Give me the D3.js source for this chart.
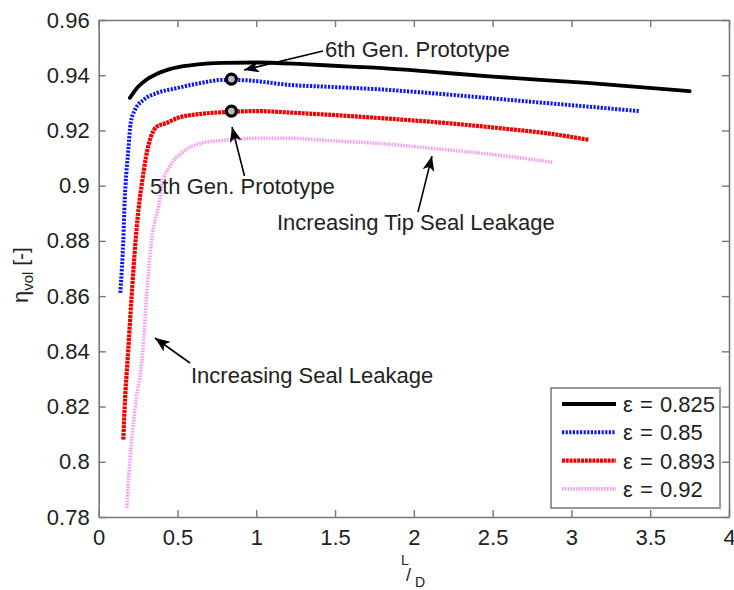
<!DOCTYPE html>
<html><head><meta charset="utf-8">
<script src="https://cdn.jsdelivr.net/npm/d3@7"></script>
<style>body{margin:0;background:#fff}svg{display:block}text{font-family:"Liberation Sans",Arial,sans-serif;fill:#222}</style>
</head><body>
<svg id="c" width="734" height="590"></svg>
<script>
// ---- data ----
const xTicks = [0, 0.5, 1, 1.5, 2, 2.5, 3, 3.5, 4];
const xTickLabels = ["0", "0.5", "1", "1.5", "2", "2.5", "3", "3.5", "4"];
const yTicks = [0.78, 0.8, 0.82, 0.84, 0.86, 0.88, 0.9, 0.92, 0.94, 0.96];
const yTickLabels = ["0.78", "0.8", "0.82", "0.84", "0.86", "0.88", "0.9", "0.92", "0.94", "0.96"];
const seriesNames = ["ε = 0.825", "ε = 0.85", "ε = 0.893", "ε = 0.92"];

const x825 = [0.198,0.25,0.3,0.37,0.45,0.58,0.79,1.0,1.3,1.6,1.8,2.1,2.5,3.1,3.75];
const y825 = [0.9318,0.9358,0.9383,0.9405,0.9422,0.9436,0.9445,0.9446,0.9440,0.9431,0.9426,0.9413,0.9395,0.9372,0.9342];

const x850 = [0.137,0.147,0.156,0.165,0.170,0.188,0.203,0.23,0.283,0.367,0.494,0.64,0.79,0.92,1.21,1.5,1.78,2.0,2.3,2.62,3.05,3.43];
const y850 = [0.8612,0.870,0.880,0.8948,0.900,0.913,0.9227,0.9274,0.931,0.9335,0.9353,0.9371,0.9383,0.9382,0.9365,0.9357,0.9349,0.934,0.9326,0.931,0.9289,0.927];

const x893 = [0.156,0.165,0.187,0.209,0.234,0.26,0.272,0.30,0.367,0.43,0.5,0.65,0.83,1.0,1.3,1.78,2.2,2.6,2.84,3.11];
const y893 = [0.808,0.820,0.840,0.860,0.880,0.895,0.900,0.9104,0.9213,0.9227,0.9245,0.926,0.9267,0.927,0.9262,0.9245,0.9227,0.9205,0.919,0.9166];

const x920 = [0.178,0.198,0.232,0.28,0.304,0.335,0.388,0.40,0.45,0.535,0.66,0.83,1.0,1.2,1.465,1.78,2.1,2.5,2.88];
const y920 = [0.7833,0.800,0.820,0.840,0.860,0.880,0.895,0.900,0.9068,0.9122,0.9155,0.9166,0.9172,0.9172,0.9163,0.9153,0.9136,0.9113,0.9085];

const prototypeX = [0.842, 0.842];
const prototypeY = [0.9386, 0.927];

// ---- layout ----
const svg = d3.select("#c");
const L = 98.7, R = 729, T = 20, B = 517;
const x = d3.scaleLinear().domain([0, 4]).range([L, R]);
const y = d3.scaleLinear().domain([0.78, 0.96]).range([B, T]);
const axisColor = "#777";

const styles = [
  {color: "#000", width: 3.8, dash: null},
  {color: "#0a14ff", width: 4, dash: "2.2,1.4"},
  {color: "#f20000", width: 4.2, dash: "3,0.8"},
  {color: "#f79cf5", width: 3.6, dash: "1.6,1.2"}
];
const xs = [x825, x850, x893, x920];
const ys = [y825, y850, y893, y920];

svg.append("rect").attr("width",734).attr("height",590).attr("fill","#fff");

// axes (box with inward ticks)
const tickLen = 7;
const gAx = svg.append("g");
gAx.append("g").attr("transform",`translate(0,${B})`)
  .call(d3.axisBottom(x).tickValues(xTicks).tickSizeInner(-tickLen).tickSizeOuter(0).tickPadding(12).tickFormat((d,i)=>xTickLabels[i]));
gAx.append("g").attr("transform",`translate(0,${T})`)
  .call(d3.axisTop(x).tickValues(xTicks).tickSizeInner(-tickLen).tickSizeOuter(0).tickFormat(""));
gAx.append("g").attr("transform",`translate(${L},0)`)
  .call(d3.axisLeft(y).tickValues(yTicks).tickSizeInner(-tickLen).tickSizeOuter(0).tickPadding(9).tickFormat((d,i)=>yTickLabels[i]));
gAx.append("g").attr("transform",`translate(${R},0)`)
  .call(d3.axisRight(y).tickValues(yTicks).tickSizeInner(-tickLen).tickSizeOuter(0).tickFormat(""));
gAx.selectAll(".domain").attr("stroke",axisColor).attr("stroke-width",1.6);
gAx.selectAll(".tick line").attr("stroke",axisColor).attr("stroke-width",1.4);
gAx.selectAll(".tick text").attr("font-size",22).attr("fill","#222").style("font-family","'Liberation Sans',Arial,sans-serif");

// series
const line = d3.line().x(d=>x(d[0])).y(d=>y(d[1])).curve(d3.curveMonotoneX);
xs.forEach((xa,i)=>{
  const pts = xa.map((v,j)=>[v, ys[i][j]]);
  const s = styles[i];
  svg.append("path").datum(pts).attr("d",line)
    .attr("fill","none").attr("stroke",s.color).attr("stroke-width",s.width)
    .attr("stroke-dasharray",s.dash).attr("stroke-linecap", s.dash ? "butt" : "round");
});

// prototype markers
svg.selectAll("circle.proto").data(prototypeX.map((v,i)=>[v,prototypeY[i]])).join("circle")
  .attr("cx",d=>x(d[0])).attr("cy",d=>y(d[1])).attr("r",5)
  .attr("fill","#bbb").attr("stroke","#000").attr("stroke-width",3.2);

// arrow marker
const defs = svg.append("defs");
defs.append("marker").attr("id","ah").attr("markerUnits","userSpaceOnUse")
  .attr("markerWidth",18).attr("markerHeight",14).attr("refX",15).attr("refY",6)
  .attr("orient","auto")
  .append("path").attr("d","M0,0 L15,6 L0,12 L4,6 Z").attr("fill","#000");

const arrows = [
  [323, 51, 244, 70],
  [244.5, 176, 232, 127],
  [418, 212, 432, 156],
  [190, 363, 155, 338]
];
arrows.forEach(a=>{
  svg.append("line").attr("x1",a[0]).attr("y1",a[1]).attr("x2",a[2]).attr("y2",a[3])
    .attr("stroke","#000").attr("stroke-width",1.6).attr("marker-end","url(#ah)");
});

const notes = [
  ["6th Gen. Prototype", 325, 57],
  ["5th Gen. Prototype", 150, 194],
  ["Increasing Tip Seal Leakage", 277, 230],
  ["Increasing Seal Leakage", 191, 383]
];
notes.forEach(n=>{
  svg.append("text").attr("x",n[1]).attr("y",n[2]).attr("font-size",22).text(n[0]);
});

// legend
const lg = svg.append("g");
lg.append("rect").attr("x",551).attr("y",388).attr("width",169).attr("height",120)
  .attr("fill","#fff").attr("stroke",axisColor).attr("stroke-width",1.5);
seriesNames.forEach((nm,i)=>{
  const yy = 404 + i*28.3;
  const s = styles[i];
  lg.append("line").attr("x1",562).attr("x2",616).attr("y1",yy).attr("y2",yy)
    .attr("stroke",s.color).attr("stroke-width",s.width).attr("stroke-dasharray",s.dash);
  lg.append("text").attr("x",623).attr("y",yy+8).attr("font-size",22).attr("word-spacing",1).text(nm);
});

// axis labels
const xl = svg.append("g");
xl.append("text").attr("x",401).attr("y",565).attr("font-size",14).text("L");
xl.append("text").attr("x",406).attr("y",581).attr("font-size",18).text("/");
xl.append("text").attr("x",415).attr("y",587).attr("font-size",14).text("D");

const yl = svg.append("text").attr("transform","translate(28,303) rotate(-90)").attr("font-size",22);
yl.append("tspan").text("η");
yl.append("tspan").attr("font-size",15).attr("dy",5).text("vol");
yl.append("tspan").attr("font-size",21).attr("dy",-5).text(" [-]");
</script>
</body></html>
